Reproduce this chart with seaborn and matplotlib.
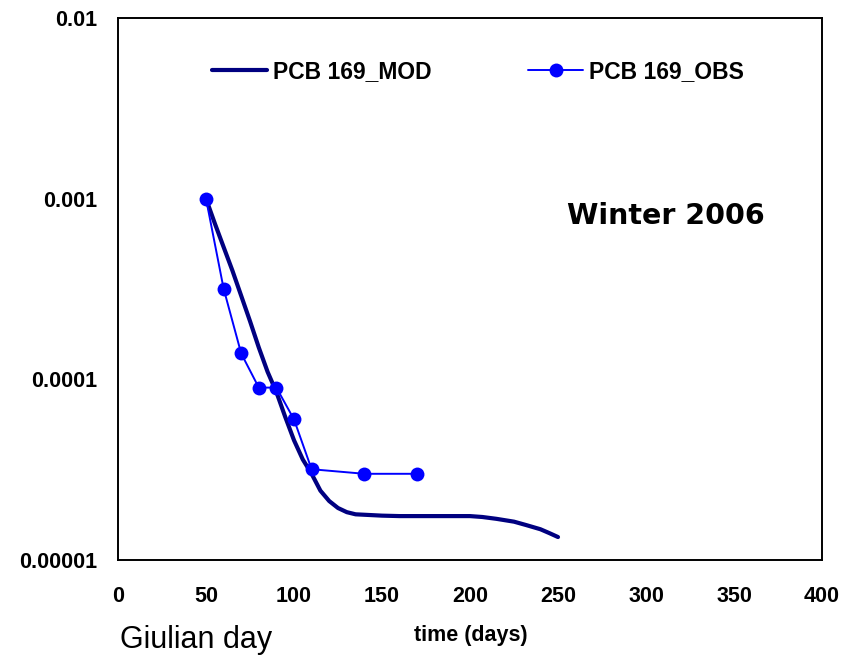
import numpy as np
import pandas as pd
import matplotlib
matplotlib.use("Agg")
import matplotlib.pyplot as plt
import seaborn as sns

# ---- data ----
mod_day = [50, 55, 60, 65, 70, 75, 80, 85, 90, 95, 100, 105, 110, 115, 120, 125,
           130, 135, 140, 150, 160, 170, 180, 190, 200, 207, 215, 225, 232, 240, 245, 250]
mod_val = [1.0e-3, 7.3e-4, 5.4e-4, 4.0e-4, 2.9e-4, 2.1e-4, 1.5e-4, 1.1e-4, 8.5e-5, 6.2e-5,
           4.6e-5, 3.6e-5, 3.0e-5, 2.42e-5, 2.12e-5, 1.94e-5, 1.84e-5, 1.79e-5, 1.78e-5,
           1.76e-5, 1.75e-5, 1.75e-5, 1.75e-5, 1.75e-5, 1.75e-5, 1.73e-5, 1.69e-5, 1.63e-5,
           1.56e-5, 1.48e-5, 1.41e-5, 1.34e-5]
obs_day = [50, 60, 70, 80, 90, 100, 110, 140, 170]
obs_val = [1.0e-3, 3.18e-4, 1.39e-4, 9.0e-5, 9.0e-5, 6.0e-5, 3.18e-5, 3.0e-5, 3.0e-5]

x_ticks = [0, 50, 100, 150, 200, 250, 300, 350, 400]
y_ticks = [1e-5, 1e-4, 1e-3, 1e-2]
y_tick_labels = ["0.00001", "0.0001", "0.001", "0.01"]

mod_label = "PCB 169_MOD"
obs_label = "PCB 169_OBS"

sns.set_style("white")
plt.rcParams['font.family'] = ['Liberation Sans', 'DejaVu Sans']
plt.rcParams['text.color'] = 'black'
plt.rcParams['xtick.color'] = 'black'
plt.rcParams['ytick.color'] = 'black'
plt.rcParams['axes.labelcolor'] = 'black'

fig = plt.figure(figsize=(8.42, 6.58), dpi=100)
ax = fig.add_axes([118/842, 1-560/658, (822-118)/842, (560-18)/658])

df_mod = pd.DataFrame({"day": mod_day, "val": mod_val})
df_obs = pd.DataFrame({"day": obs_day, "val": obs_val})

sns.lineplot(data=df_mod, x="day", y="val", ax=ax, color="#000080", linewidth=3.0,
             label=mod_label, estimator=None, sort=False)
sns.lineplot(data=df_obs, x="day", y="val", ax=ax, color="#0000FF", linewidth=1.4,
             marker="o", markersize=10, markeredgewidth=0, label=obs_label,
             estimator=None, sort=False)

ax.set_yscale("log")
ax.set_xlim(0, 400)
ax.set_ylim(1e-5, 1e-2)
ax.set_xticks(x_ticks)
ax.set_xticklabels([str(v) for v in x_ticks])
ax.set_yticks(y_ticks)
ax.set_yticklabels(y_tick_labels)
ax.yaxis.set_minor_locator(matplotlib.ticker.NullLocator())
ax.xaxis.set_minor_locator(matplotlib.ticker.NullLocator())

ax.tick_params(axis="y", which="major", direction="out", length=6, width=1.0,
               color="black", pad=9, labelsize=15.5, labelcolor="black")
ax.tick_params(axis="x", which="major", length=0, pad=19, labelsize=15.5, labelcolor="black")
for lab in ax.get_yticklabels():
    lab.set_fontweight("bold")
for lab in ax.get_xticklabels():
    lab.set_fontweight("bold")

for sp in ax.spines.values():
    sp.set_visible(True)
    sp.set_color("black")
    sp.set_linewidth(1.4)

ax.set_xlabel("")
ax.set_ylabel("")

leg = ax.legend(loc="center", bbox_to_anchor=(478/842, 1-72/658),
                bbox_transform=fig.transFigure, ncol=2, frameon=False,
                handlelength=2.4, columnspacing=4.2, handletextpad=0.25,
                prop={"weight": "bold", "size": 16.5})
for t in leg.get_texts():
    t.set_color("black")

ax.text((666-118)/704, 1-(216-18)/542, "Winter 2006", transform=ax.transAxes,
        ha="center", va="center", fontsize=20.5, fontweight="bold",
        family="DejaVu Sans", color="black")

fig.text(471/842, 1-635/658, "time (days)", ha="center", va="center",
         fontsize=15.5, fontweight="bold", color="black")
fig.text(120/842, 1-640/658, "Giulian day", ha="left", va="center",
         fontsize=22, color="black")

fig.savefig("out.png", dpi=100)
